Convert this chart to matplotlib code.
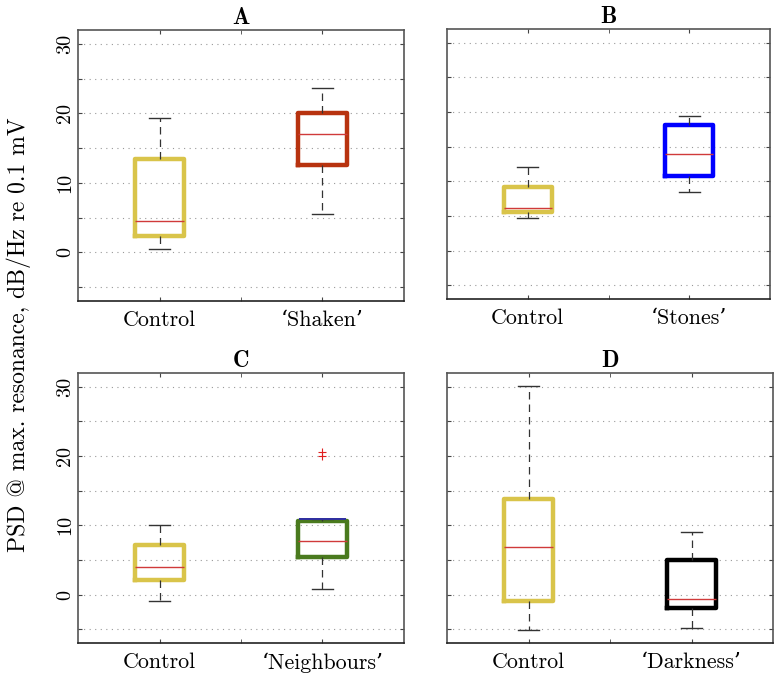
import matplotlib
matplotlib.use('Agg')
import matplotlib.pyplot as plt
from matplotlib.ticker import MultipleLocator, FixedLocator, NullFormatter, FuncFormatter

plt.rcParams['font.family'] = ['cmr10', 'DejaVu Serif']
plt.rcParams['axes.formatter.use_mathtext'] = True
plt.rcParams['mathtext.fontset'] = 'cm'

# panel titles and group labels
titles = ['A', 'B', 'C', 'D']
labels_A = ['Control', '\u2018Shaken\u2019']
labels_B = ['Control', '\u2018Stones\u2019']
labels_C = ['Control', '\u2018Neighbours\u2019']
labels_D = ['Control', '\u2018Darkness\u2019']

# box statistics: [whisker low, q1, median, q3, whisker high]
stats_A = [[0.5, 2.35, 4.55, 13.4, 19.3], [5.5, 12.6, 17.1, 20.0, 23.7]]
stats_B = [[4.7, 5.5, 6.1, 9.2, 12.0], [8.4, 10.8, 14.0, 18.2, 19.4]]
stats_C = [[-0.9, 2.1, 4.0, 7.1, 10.1], [0.8, 5.4, 7.75, 10.6, 10.9]]
stats_D = [[-5.1, -1.0, 6.9, 13.8, 30.1], [-4.8, -1.95, -0.65, 5.0, 9.0]]
outliers_C = [[], [20.0, 20.6]]

box_colors_A = ['#d9c44a', '#b8330f']
box_colors_B = ['#d9c44a', '#0000ff']
box_colors_C = ['#d9c44a', '#4a7a1e']
box_colors_D = ['#d9c44a', '#000000']

W, H = 779, 677
fig = plt.figure(figsize=(W / 100, H / 100), dpi=100)

# axes boxes in pixels: left, top, right, bottom
boxes = [(78, 30, 404, 301), (447, 29, 770, 299),
         (78, 373, 404, 643), (447, 373, 773, 643)]

panels = [(stats_A, labels_A, box_colors_A, [[], []]),
          (stats_B, labels_B, box_colors_B, [[], []]),
          (stats_C, labels_C, box_colors_C, outliers_C),
          (stats_D, labels_D, box_colors_D, [[], []])]

for i, (stats, labels, colors, fl) in enumerate(panels):
    l, t, r, b = boxes[i]
    ax = fig.add_axes([l / W, (H - b) / H, (r - l) / W, (b - t) / H])
    for j, s in enumerate(stats):
        st = dict(whislo=s[0], q1=s[1], med=s[2], q3=s[3], whishi=s[4],
                  fliers=fl[j], label=labels[j])
        ax.bxp([st], positions=[j + 1], widths=0.3, capwidths=0.13,
               showfliers=True, manage_ticks=False,
               boxprops=dict(color=colors[j], linewidth=3.2),
               medianprops=dict(color='#d03a3a', linewidth=1.0),
               whiskerprops=dict(color='#333333', linewidth=0.9,
                                 linestyle=(0, (6, 4))),
               capprops=dict(color='#333333', linewidth=1.0),
               flierprops=dict(marker='+', markeredgecolor='#e02020',
                               markersize=6, markeredgewidth=0.8))
    if i == 2:
        # the upper cap of 'Neighbours' is drawn in dark blue in the original
        ax.bxp([dict(whislo=stats[1][4], q1=stats[1][4], med=stats[1][4],
                     q3=stats[1][4], whishi=stats[1][4], fliers=[])],
               positions=[2], widths=0.28, showcaps=False, manage_ticks=False,
               boxprops=dict(color='#3030a0', linewidth=1.2),
               medianprops=dict(color='#3030a0', linewidth=1.2),
               whiskerprops=dict(linewidth=0))
    ax.set_xlim(0.5, 2.5)
    ax.set_ylim(-7, 32)
    ax.xaxis.set_major_locator(FixedLocator([1, 2]))
    ax.set_xticklabels(labels, fontsize=15.8)
    ax.xaxis.set_minor_locator(FixedLocator([1.5]))
    ax.yaxis.set_major_locator(MultipleLocator(5))
    if i in (0, 2):
        ax.yaxis.set_major_formatter(FuncFormatter(
            lambda v, p: '%d' % v if v % 10 == 0 and v >= 0 else ''))
    else:
        ax.yaxis.set_major_formatter(NullFormatter())
    ax.tick_params(axis='y', which='major', direction='in', length=3,
                   left=True, right=True, labelsize=14.5, labelrotation=90,
                   color='#444444', pad=3)
    for lab in ax.get_yticklabels():
        lab.set_verticalalignment('center')
    ax.tick_params(axis='x', which='both', direction='in', length=3,
                   bottom=True, top=True, color='#444444', pad=7)
    ax.grid(axis='y', linestyle=(0, (1, 4)), color='#999999', linewidth=0.8)
    ax.set_axisbelow(True)
    for sp in ax.spines.values():
        sp.set_color('#555555')
        sp.set_linewidth(1.2)
    ax.spines['bottom'].set_color('#222222')
    ax.set_title(titles[i], fontsize=16.5, family=['cmb10', 'DejaVu Serif'],
                 pad=4)

fig.text(0.008, 0.505, 'PSD @ max. resonance, dB/Hz re 0.1 mV', rotation=90,
         va='center', ha='left', fontsize=17)

fig.savefig('out.png', dpi=100)
